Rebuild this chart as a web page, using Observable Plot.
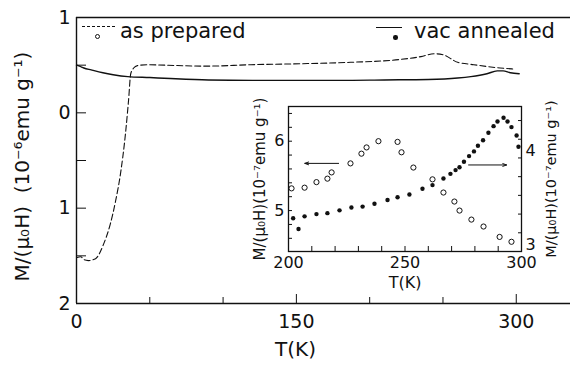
<!DOCTYPE html>
<html><head><meta charset="utf-8">
<script src="https://cdn.jsdelivr.net/npm/d3@7"></script>
<script src="https://cdn.jsdelivr.net/npm/@observablehq/plot@0.6"></script>
<style>
body{margin:0;background:#fff;}
#wrap{position:relative;width:574px;height:370px;font-family:"DejaVu Sans",sans-serif;color:#111;}
#wrap svg{position:absolute;left:0;top:0;background:transparent;}
.leg{position:absolute;font-size:21px;line-height:20px;white-space:nowrap;}
.dash{position:absolute;height:0;border-top:1.3px dashed #111;}
.solid{position:absolute;height:0;border-top:1.4px solid #111;}
.mk{position:absolute;border-radius:50%;box-sizing:border-box;}
</style></head><body><div id="wrap"></div>
<script>
// ---- main panel: M/(mu0 H) vs T ----
const preparedT = [0, 3, 5, 8, 13, 18.4, 23, 26.6, 30, 33.4, 35.5, 37, 39, 41.6, 48, 60, 89, 119, 153, 187, 221, 235, 244, 250, 260, 271, 289, 298];
const preparedM = [-1.52, -1.51, -1.54, -1.55, -1.53, -1.38, -1.17, -0.93, -0.64, -0.22, 0.13, 0.41, 0.47, 0.495, 0.505, 0.50, 0.49, 0.505, 0.515, 0.53, 0.56, 0.59, 0.62, 0.61, 0.53, 0.505, 0.47, 0.46];
const annealedT = [0, 2, 5, 10, 18, 25, 35, 50, 64, 90, 120, 150, 180, 210, 240, 260, 269, 280, 287, 291, 296, 302];
const annealedM = [0.50, 0.49, 0.47, 0.45, 0.42, 0.40, 0.38, 0.37, 0.36, 0.345, 0.34, 0.34, 0.34, 0.345, 0.35, 0.365, 0.38, 0.41, 0.44, 0.44, 0.42, 0.41];
const mainXDomain = [0, 337];
const mainYDomain = [-2, 1];
const mainXTicks = [0, 150, 300];
const mainXMinor = [50, 100, 200, 250];
const mainYTicks = [-2, -1, 0, 1];
const mainYTickLabels = ["2", "1", "0", "1"];
const mainYMinor = [-1.5, -0.5, 0.5];
const mainYLabel = "M/(\u03bc\u2080H)  (10\u207b\u2076emu g\u207b\u00b9)";
const mainXLabel = "T(K)";
const legendNames = ["as prepared", "vac annealed"];

// ---- inset: 200-300 K ----
const insetPreparedT = [201.3, 206.9, 212, 216.7, 218.5, 226.6, 231.3, 233.5, 238.6, 246.8, 248.5, 253.6, 261.8, 266.5, 271.2, 273.4, 278.5, 283.7, 290.6, 295.7];
const insetPreparedM = [5.32, 5.33, 5.41, 5.46, 5.55, 5.68, 5.82, 5.91, 6.0, 5.99, 5.84, 5.62, 5.45, 5.26, 5.13, 5.0, 4.87, 4.77, 4.62, 4.55];
const insetAnnealedT = [202, 204.3, 206.9, 212, 216.7, 221.9, 227, 231.8, 236.9, 242.5, 246.8, 251.9, 257.5, 261.8, 266.5, 269.5, 271.7, 273.4, 275.3, 277.5, 279.6, 281.3, 283.5, 285.8, 288, 289.7, 292.3, 294, 295.7, 297.9, 298.7];
const insetAnnealedM = [3.355, 3.24, 3.376, 3.40, 3.41, 3.44, 3.47, 3.48, 3.51, 3.55, 3.58, 3.61, 3.67, 3.71, 3.78, 3.83, 3.87, 3.90, 3.96, 4.02, 4.07, 4.13, 4.19, 4.27, 4.34, 4.39, 4.43, 4.39, 4.33, 4.24, 4.12];
const insetXDomain = [200, 300];
const insetLeftDomain = [4.41, 6.5];
const insetRightDomain = [3.0, 4.55];
const insetXTicks = [200, 210, 220, 230, 240, 250, 260, 270, 280, 290, 300];
const insetXTickLabels = [200, 250, 300];
const insetLeftTicks = [4.6, 4.8, 5, 5.2, 5.4, 5.6, 5.8, 6, 6.2, 6.4];
const insetRightTicks = [3, 3.2, 3.4, 3.6, 3.8, 4, 4.2, 4.4];
const insetRightTickLabels = [3, 4];
const insetLabel = "M/(\u03bc\u2080H)(10\u207b\u2077emu g\u207b\u00b9)";
const insetXLabel = "T(K)";
const arrowPrepared = [{from: 221.5, to: 207, level: 5.68}];
const arrowAnnealed = [{from: 277.3, to: 293.6, level: 3.925}];

const W = 574, H = 370;
const ink = "#111";
const font = '"DejaVu Sans", sans-serif';
const zip = (xs, ys) => xs.map((x, i) => ({x, y: ys[i]}));
const prepared = zip(preparedT, preparedM);
const annealed = zip(annealedT, annealedM);
const insetPrepared = zip(insetPreparedT, insetPreparedM);
const insetAnnealed = zip(insetAnnealedT, insetAnnealedM);

const main = Plot.plot({
  width: W, height: H,
  marginLeft: 76, marginRight: 4, marginTop: 17, marginBottom: 67,
  x: {domain: mainXDomain},
  y: {domain: mainYDomain},
  style: {fontFamily: font, fontSize: "19px", background: "transparent", color: ink},
  marks: [
    Plot.ruleY([mainYDomain[1]], {stroke: ink, strokeWidth: 1.3}),
    Plot.ruleY([mainYDomain[0]], {stroke: ink, strokeWidth: 1.4}),
    Plot.ruleX([mainXDomain[0]], {stroke: ink, strokeWidth: 1.4}),
    Plot.axisX({ticks: mainXMinor, tickSize: -6, tickFormat: () => "", label: null, stroke: ink}),
    Plot.axisX({ticks: mainXTicks, tickSize: -9, tickPadding: 20, label: null, stroke: ink}),
    Plot.axisY({ticks: mainYTicks, tickSize: -10, tickPadding: 16, tickFormat: (d, i) => mainYTickLabels[i], label: null, stroke: ink}),
    Plot.axisY({ticks: mainYMinor, tickSize: -10, tickFormat: () => "", label: null, stroke: ink}),
    Plot.line(prepared, {x: "x", y: "y", curve: "monotone-x", stroke: ink, strokeWidth: 1.1, strokeDasharray: "6,3"}),
    Plot.line(annealed, {x: "x", y: "y", curve: "monotone-x", stroke: ink, strokeWidth: 1.4}),
    Plot.text([mainYLabel], {text: d => d, frameAnchor: "left", textAnchor: "middle", lineAnchor: "middle", rotate: -90, dx: -54, dy: 6, fontSize: 20, fill: ink}),
    Plot.text([mainXLabel], {text: d => d, frameAnchor: "bottom", textAnchor: "middle", dx: -28, dy: 52, fontSize: 20, fill: ink})
  ]
});

const insetMargins = {marginLeft: 288, marginRight: 53, marginTop: 106, marginBottom: 119};
const insetStyle = {fontFamily: font, fontSize: "16px", background: "transparent", color: ink};

const insetL = Plot.plot({
  width: W, height: H, ...insetMargins,
  x: {domain: insetXDomain},
  y: {domain: insetLeftDomain},
  style: insetStyle,
  marks: [
    Plot.frame({stroke: ink, strokeWidth: 1.3}),
    Plot.axisX({ticks: insetXTicks, tickSize: -5, tickPadding: 10, tickFormat: d => insetXTickLabels.includes(d) ? String(d) : "", label: null, stroke: ink}),
    Plot.axisY({ticks: insetLeftTicks, tickSize: -4, tickPadding: 8, tickFormat: d => Number.isInteger(d) ? String(d) : "", label: null, stroke: ink}),
    Plot.dot(insetPrepared, {x: "x", y: "y", r: 2.6, stroke: ink, strokeWidth: 1, fill: "none"}),
    Plot.arrow(arrowPrepared, {x1: "from", x2: "to", y1: "level", y2: "level", stroke: ink, strokeWidth: 1, headLength: 6, headAngle: 40}),
    Plot.text([insetXLabel], {text: d => d, frameAnchor: "bottom", textAnchor: "middle", dy: 36, fill: ink}),
    Plot.text([insetLabel], {text: d => d, frameAnchor: "left", textAnchor: "middle", lineAnchor: "middle", rotate: -90, dx: -28, fontSize: 15, fill: ink})
  ]
});

const insetR = Plot.plot({
  width: W, height: H, ...insetMargins,
  x: {domain: insetXDomain, axis: null},
  y: {domain: insetRightDomain},
  style: insetStyle,
  marks: [
    Plot.axisY({anchor: "right", ticks: insetRightTicks, tickSize: -4, tickFormat: () => "", label: null, stroke: ink}),
    Plot.axisY({anchor: "right", ticks: insetRightTickLabels, tickSize: 0, tickPadding: 4, dy: -7, tickFormat: d => String(d), label: null, stroke: "none"}),
    Plot.dot(insetAnnealed, {x: "x", y: "y", r: 2.2, fill: ink}),
    Plot.arrow(arrowAnnealed, {x1: "from", x2: "to", y1: "level", y2: "level", stroke: ink, strokeWidth: 1, headLength: 6, headAngle: 40}),
    Plot.text([insetLabel], {text: d => d, frameAnchor: "right", textAnchor: "middle", lineAnchor: "middle", rotate: -90, dx: 30, fontSize: 14.5, fill: ink})
  ]
});

const wrap = document.getElementById("wrap");
wrap.append(main, insetL, insetR);

// legend
function add(cls, css, text) {
  const d = document.createElement("div");
  d.className = cls;
  Object.assign(d.style, css);
  if (text) d.textContent = text;
  wrap.append(d);
}
add("dash", {left: "82px", top: "26px", width: "33px"});
add("mk", {left: "95px", top: "34px", width: "5px", height: "5px", border: "1px solid " + ink});
add("leg", {left: "120px", top: "21px"}, legendNames[0]);
add("solid", {left: "376px", top: "27px", width: "26px"});
add("mk", {left: "393px", top: "35px", width: "4.5px", height: "4.5px", background: ink});
add("leg", {left: "414px", top: "21px"}, legendNames[1]);
</script>
</body></html>
